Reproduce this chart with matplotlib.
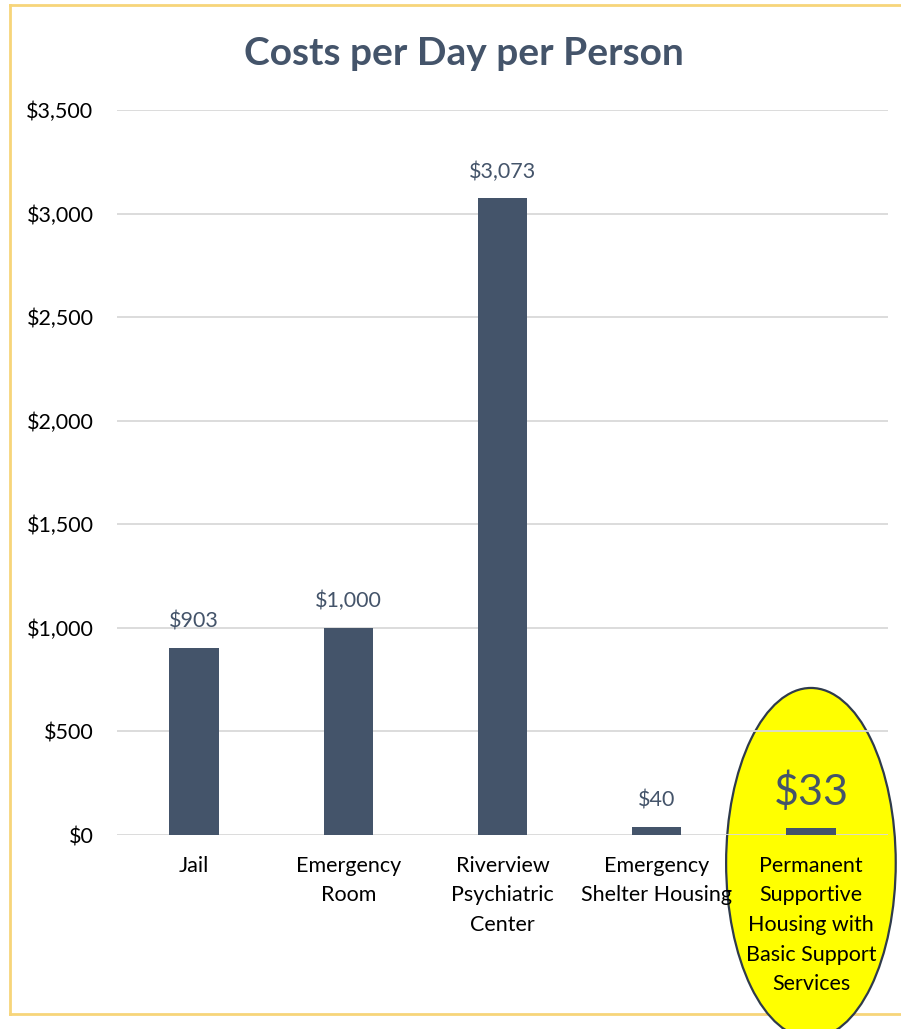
import matplotlib.pyplot as plt
from matplotlib.patches import Ellipse
from matplotlib.lines import Line2D
from matplotlib.ticker import FuncFormatter

plt.rcParams['font.family'] = ['Lato', 'DejaVu Sans']

# data
categories = ["Jail", "Emergency\nRoom", "Riverview\nPsychiatric\nCenter",
              "Emergency\nShelter Housing",
              "Permanent\nSupportive\nHousing with\nBasic Support\nServices"]
costs = [903, 1000, 3073, 40, 33]
yticks = [0, 500, 1000, 1500, 2000, 2500, 3000, 3500]

slate = '#44546A'

fig = plt.figure(figsize=(9.01, 10.29), dpi=100)
ax = fig.add_axes([0.1299, 0.1885, 0.8557, 0.7046])

x = list(range(len(categories)))
ax.bar(x, costs, width=0.32, color=slate, zorder=2)

# labels above bars
for i, v in enumerate(costs):
    if i == len(costs) - 1:
        ax.annotate(f"${v:,}", (i, v), xytext=(0, 12), textcoords='offset points',
                    ha='center', va='bottom', fontsize=31, color=slate)
    else:
        ax.annotate(f"${v:,}", (i, v), xytext=(0, 12), textcoords='offset points',
                    ha='center', va='bottom', fontsize=15.5, color=slate)

# highlight ellipse around last category
ell = Ellipse((4, -135), 1.10, 1690, facecolor='#FFFF00', edgecolor='#2f3b4c',
              linewidth=1.6, clip_on=False, zorder=0.5)
ax.add_patch(ell)

ax.set_ylim(0, 3500)
ax.set_xlim(-0.5, 4.5)
ax.set_yticks(yticks)
ax.yaxis.set_major_formatter(FuncFormatter(lambda v, p: f"${int(v):,}"))
ax.set_xticks(x)
ax.set_xticklabels(categories, fontsize=15.5, linespacing=1.6, va='top')
ax.tick_params(axis='y', length=0, pad=17, labelsize=15.5)
ax.tick_params(axis='x', length=0, pad=15)
ax.grid(axis='y', color='#d9d9d9', linewidth=1.3, zorder=1)
for s in ax.spines.values():
    s.set_visible(False)

fig.text(0.515, 0.948, "Costs per Day per Person", ha='center', va='center',
         fontsize=28, fontweight='bold', color=slate)

# outer border (gold)
bc = '#F7D57A'
fig.add_artist(Line2D([10/901, 10/901], [1 - 5/1029, 1 - 1014/1029], color=bc, lw=2, zorder=-1))
fig.add_artist(Line2D([10/901, 1.0], [1 - 5/1029, 1 - 5/1029], color=bc, lw=2, zorder=-1))
fig.add_artist(Line2D([10/901, 1.0], [1 - 1014/1029, 1 - 1014/1029], color=bc, lw=2, zorder=-1))

fig.savefig("out.png", dpi=100)
